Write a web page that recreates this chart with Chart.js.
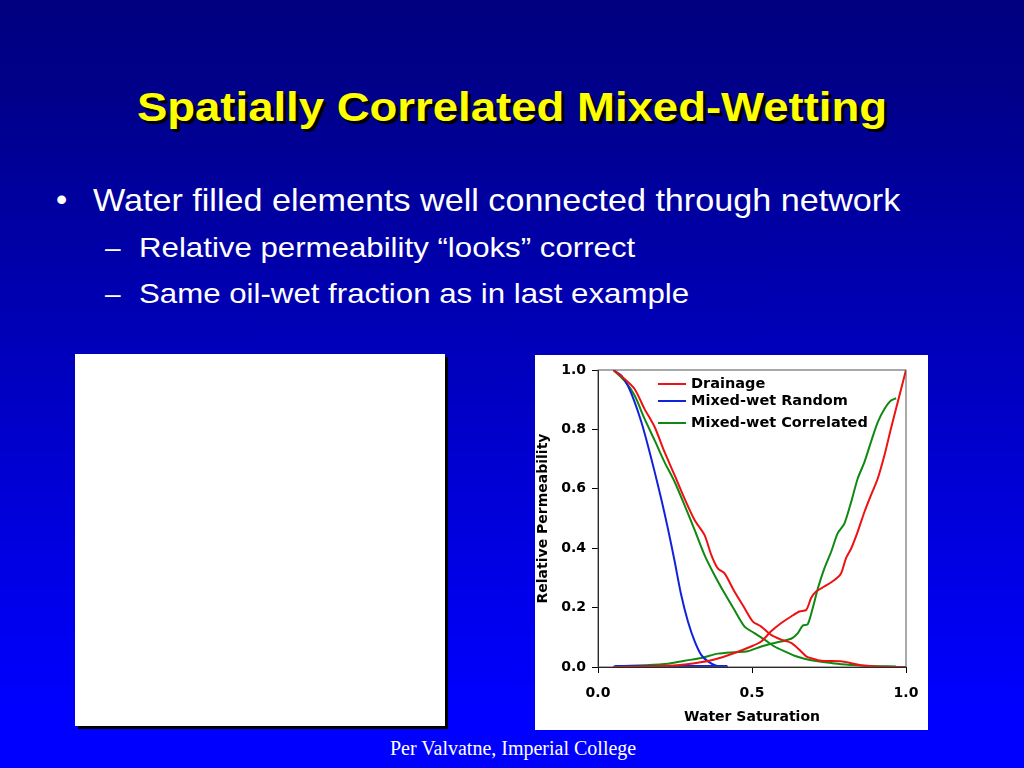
<!DOCTYPE html>
<html lang="en">
<head>
<meta charset="UTF-8">
<title>Spatially Correlated Mixed-Wetting</title>
<script src="https://cdn.jsdelivr.net/npm/chart.js"></script>
<style>
    body {
        margin: 0;
        width: 1024px;
        height: 768px;
        overflow: hidden;
        background: linear-gradient(to bottom, #000080 0%, #00008a 12%, #0000ff 92%, #0000ff 100%);
        font-family: 'Liberation Sans', Arial, sans-serif;
        position: relative;
    }
    h1 {
        position: absolute;
        left: 0;
        width: 1024px;
        top: 84px;
        margin: 0;
        text-align: center;
        color: #ffff00;
        font-size: 41px;
        font-weight: bold;
        text-shadow: 3px 3px 0 #000;
        transform: scaleX(1.11);
        transform-origin: 512px 0;
    }
    .bullet {
        position: absolute;
        color: #fff;
        white-space: nowrap;
        transform-origin: 0 0;
    }
    .lvl1 { font-size: 32px; }
    .lvl2 { font-size: 28px; }
    .photo {
        position: absolute;
        left: 75px;
        top: 354px;
        width: 370px;
        height: 372px;
        background: #fff;
        box-shadow: 3px 3px 0 #000;
    }
    .chartBox {
        position: absolute;
        left: 535px;
        top: 355px;
        width: 393px;
        height: 375px;
        background: #fff;
    }
    .legend {
        position: absolute;
        font-family: 'DejaVu Sans', sans-serif;
        font-size: 14.5px;
        font-weight: bold;
        color: #000;
        white-space: nowrap;
        line-height: 18px;
    }
    .legend span {
        display: inline-block;
        width: 28px;
        height: 2px;
        vertical-align: middle;
        margin-right: 5px;
    }
    .footer {
        position: absolute;
        left: 390px;
        top: 737px;
        color: #fff;
        font-family: 'Liberation Serif', 'Times New Roman', serif;
        font-size: 20px;
    }
</style>
</head>
<body>
<h1>Spatially Correlated Mixed-Wetting</h1>
<div class="bullet lvl1" style="left:56px; top:181px;">•</div>
<div class="bullet lvl1" style="left:93px; top:182px; transform:scaleX(1.067);">Water filled elements well connected through network</div>
<div class="bullet lvl2" style="left:105px; top:232px;">–</div>
<div class="bullet lvl2" style="left:139px; top:232px; transform:scaleX(1.115);">Relative permeability “looks” correct</div>
<div class="bullet lvl2" style="left:105px; top:278px;">–</div>
<div class="bullet lvl2" style="left:139px; top:278px; transform:scaleX(1.115);">Same oil-wet fraction as in last example</div>

<div class="photo"></div>

<div class="chartBox">
    <canvas id="krChart" width="393" height="375"></canvas>
</div>
<div class="legend" style="left:658px; top:374px;"><span style="background:#ee1111"></span>Drainage</div>
<div class="legend" style="left:658px; top:391px;"><span style="background:#1122dd"></span>Mixed-wet Random</div>
<div class="legend" style="left:658px; top:413px;"><span style="background:#118811"></span>Mixed-wet Correlated</div>

<div class="footer">Per Valvatne, Imperial College</div>

<script>
    // values (water saturation, relative permeability)
    const drainOilSw = [0.05, 0.086, 0.119, 0.151, 0.184, 0.216, 0.249, 0.281, 0.314, 0.346, 0.368, 0.389, 0.411, 0.443, 0.476, 0.503, 0.530, 0.562, 0.595, 0.627, 0.654, 0.676, 0.697, 0.724, 0.789, 0.822, 0.854, 0.908, 0.968, 1.0];
    const drainOilKr = [1.0, 0.97, 0.936, 0.869, 0.808, 0.724, 0.645, 0.567, 0.494, 0.444, 0.377, 0.332, 0.315, 0.254, 0.198, 0.153, 0.136, 0.108, 0.092, 0.081, 0.058, 0.036, 0.028, 0.021, 0.019, 0.013, 0.006, 0.002, 0.0, 0.0];

    const drainWatSw = [0.05, 0.227, 0.314, 0.378, 0.443, 0.497, 0.530, 0.562, 0.595, 0.627, 0.654, 0.676, 0.692, 0.708, 0.735, 0.768, 0.789, 0.805, 0.822, 0.843, 0.865, 0.886, 0.908, 0.930, 0.951, 0.973, 1.0];
    const drainWatKr = [0.0, 0.004, 0.013, 0.025, 0.047, 0.069, 0.086, 0.12, 0.148, 0.17, 0.187, 0.192, 0.232, 0.254, 0.271, 0.293, 0.315, 0.366, 0.399, 0.455, 0.522, 0.578, 0.634, 0.713, 0.802, 0.891, 1.0];

    const randOilSw = [0.05, 0.076, 0.097, 0.119, 0.141, 0.162, 0.184, 0.205, 0.227, 0.249, 0.270, 0.292, 0.314, 0.335, 0.357, 0.384, 0.422];
    const randOilKr = [1.0, 0.981, 0.947, 0.892, 0.824, 0.746, 0.657, 0.567, 0.466, 0.355, 0.243, 0.153, 0.086, 0.041, 0.019, 0.004, 0.0];

    const randWatSw = [0.055, 0.20, 0.30, 0.42];
    const randWatKr = [0.003, 0.003, 0.003, 0.003];

    const corrOilSw = [0.05, 0.086, 0.119, 0.151, 0.184, 0.216, 0.249, 0.281, 0.314, 0.346, 0.378, 0.411, 0.443, 0.476, 0.508, 0.541, 0.573, 0.605, 0.638, 0.670, 0.714, 0.768, 0.822, 0.876, 0.968];
    const corrOilKr = [1.0, 0.964, 0.914, 0.836, 0.763, 0.69, 0.623, 0.545, 0.461, 0.377, 0.31, 0.248, 0.192, 0.136, 0.114, 0.092, 0.069, 0.053, 0.038, 0.028, 0.019, 0.012, 0.007, 0.003, 0.002];

    const corrWatSw = [0.05, 0.151, 0.227, 0.281, 0.335, 0.389, 0.443, 0.486, 0.530, 0.573, 0.627, 0.649, 0.665, 0.681, 0.697, 0.714, 0.735, 0.757, 0.778, 0.800, 0.822, 0.843, 0.865, 0.886, 0.908, 0.930, 0.951, 0.968];
    const corrWatKr = [0.002, 0.006, 0.011, 0.021, 0.03, 0.045, 0.05, 0.053, 0.069, 0.081, 0.095, 0.114, 0.14, 0.144, 0.198, 0.265, 0.332, 0.388, 0.45, 0.483, 0.556, 0.634, 0.69, 0.757, 0.824, 0.869, 0.897, 0.905];

    const xTicks = [0, 0.5, 1.0];
    const yTicks = [0, 0.2, 0.4, 0.6, 0.8, 1.0];

    const RED = '#ee1111', BLUE = '#1122dd', GREEN = '#118811';

    function pts(xs, ys) {
        return xs.map((x, i) => ({ x: x, y: ys[i] }));
    }
    function line(label, xs, ys, color) {
        return {
            label: label,
            data: pts(xs, ys),
            borderColor: color,
            borderWidth: 2,
            pointRadius: 0,
            tension: 0.25,
            fill: false
        };
    }

    // thin frame round the plot area
    const frame = {
        id: 'frame',
        afterDraw(chart) {
            const a = chart.chartArea, c = chart.ctx;
            c.save();
            c.strokeStyle = '#555';
            c.lineWidth = 1;
            c.strokeRect(a.left, a.top, a.right - a.left, a.bottom - a.top);
            c.restore();
        }
    };

    const axisFont = { family: "'DejaVu Sans', sans-serif", size: 14, weight: 'bold' };

    new Chart(document.getElementById('krChart'), {
        type: 'line',
        data: {
            datasets: [
                line('Drainage', drainOilSw, drainOilKr, RED),
                line('Drainage water', drainWatSw, drainWatKr, RED),
                line('Mixed-wet Random', randOilSw, randOilKr, BLUE),
                line('Mixed-wet Random water', randWatSw, randWatKr, BLUE),
                line('Mixed-wet Correlated', corrOilSw, corrOilKr, GREEN),
                line('Mixed-wet Correlated water', corrWatSw, corrWatKr, GREEN)
            ]
        },
        options: {
            responsive: false,
            animation: false,
            layout: { padding: { top: 15, right: 22, left: 0, bottom: 0 } },
            plugins: { legend: { display: false }, tooltip: { enabled: false } },
            scales: {
                x: {
                    type: 'linear',
                    min: 0, max: 1,
                    afterBuildTicks: s => { s.ticks = xTicks.map(v => ({ value: v })); },
                    afterFit: s => { s.height = 63; s.paddingLeft = 0; s.paddingRight = 0; },
                    ticks: { color: '#000', font: axisFont, padding: 12, maxRotation: 0, callback: v => v.toFixed(1) },
                    grid: { drawOnChartArea: false, drawTicks: true, tickLength: 6, color: '#000' },
                    border: { color: '#000', width: 1 },
                    title: { display: true, text: 'Water Saturation', color: '#000', font: axisFont, padding: { top: 2, bottom: 4 } }
                },
                y: {
                    min: 0, max: 1,
                    afterBuildTicks: s => { s.ticks = yTicks.map(v => ({ value: v })); },
                    afterFit: s => { s.width = 63; },
                    ticks: { color: '#000', font: axisFont, padding: 6, callback: v => v.toFixed(1) },
                    grid: { drawOnChartArea: false, drawTicks: true, tickLength: 6, color: '#000' },
                    border: { color: '#000', width: 1 },
                    title: { display: true, text: 'Relative Permeability', color: '#000', font: axisFont, padding: { top: 0, bottom: 0 } }
                }
            }
        },
        plugins: [frame]
    });
</script>
</body>
</html>
